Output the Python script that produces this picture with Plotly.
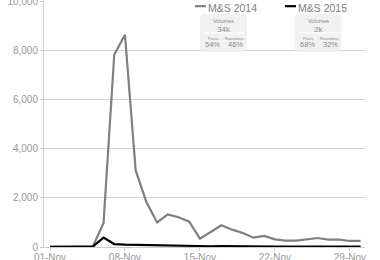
import plotly.graph_objects as go
import pandas as pd

dates = pd.date_range("2014-11-01", "2014-11-30", freq="D")
ms2014 = [10, 20, 50, 30, 20, 975, 7817, 8629, 3111, 1826, 1000, 1327, 1210, 1030, 340,
          600, 880, 705, 570, 380, 450, 310, 260, 260, 310, 365, 300, 300, 245, 245]
ms2015 = [10, 15, 20, 15, 15, 380, 120, 100, 90, 80, 60, 50, 40, 35, 20,
          30, 40, 30, 20, 20, 15, 15, 15, 15, 15, 15, 15, 15, 15, 15]
series_names = ["M&S 2014", "M&S 2015"]
series_colors = ["#7f7f7f", "#000000"]
y_ticks = [0, 2000, 4000, 6000, 8000, 10000]
x_ticks = ["2014-11-01", "2014-11-08", "2014-11-15", "2014-11-22", "2014-11-29"]
x_labels = ["01-Nov", "08-Nov", "15-Nov", "22-Nov", "29-Nov"]
volumes = ["34k", "2k"]
posts = ["54%", "68%"]
reactions = ["46%", "32%"]

W, H = 380, 260
L, R, T, B = 44, 365, 0.5, 247

def px(x):
    return (x - L) / (R - L)

def py(y):
    return (B - y) / (B - T)

fig = go.Figure()
for name, vals, col in zip(series_names, [ms2014, ms2015], series_colors):
    fig.add_trace(go.Scatter(x=dates, y=vals, mode="lines", name=name,
                             line=dict(color=col, width=2.2), showlegend=False))

font = "Liberation Sans, Arial, sans-serif"
shapes = []
annotations = []

def rounded_rect(x0, y0, x1, y1, r):
    def P(x, y):
        return f"{px(x):.5f},{py(y):.5f}"
    return (f"M {P(x0 + r, y0)} L {P(x1 - r, y0)} Q {P(x1, y0)} {P(x1, y0 + r)} "
            f"L {P(x1, y1 - r)} Q {P(x1, y1)} {P(x1 - r, y1)} "
            f"L {P(x0 + r, y1)} Q {P(x0, y1)} {P(x0, y1 - r)} "
            f"L {P(x0, y0 + r)} Q {P(x0, y0)} {P(x0 + r, y0)} Z")

legend_x = [195, 285]
box_x = [200, 294.5]
for i in range(2):
    lx = legend_x[i]
    shapes.append(dict(type="line", xref="paper", yref="paper",
                       x0=px(lx), x1=px(lx + 11), y0=py(5.7), y1=py(5.7),
                       line=dict(color=series_colors[i], width=2.2)))
    annotations.append(dict(x=px(lx + 11), y=py(7.5), xref="paper", yref="paper",
                            text=series_names[i], showarrow=False, xanchor="left",
                            yanchor="middle", font=dict(size=10.5, color="#808080", family=font)))
    bx = box_x[i]
    shapes.append(dict(type="path", xref="paper", yref="paper",
                       path=rounded_rect(bx, 13.3, bx + 47, 51.7, 5),
                       fillcolor="rgba(238,238,238,0.85)", line=dict(width=0), layer="above"))
    shapes.append(dict(type="line", xref="paper", yref="paper",
                       x0=px(bx + 3), x1=px(bx + 44), y0=py(32.5), y1=py(32.5),
                       line=dict(color="white", width=1)))
    cx = bx + 23.5
    for text, x, y, s in [("Volumes", cx, 20.7, 5.5), (volumes[i], cx, 29.0, 8),
                          ("Posts", bx + 13, 38.3, 4.2), ("Reactions", bx + 35, 38.3, 4.2),
                          (posts[i], bx + 13, 44.5, 7.5), (reactions[i], bx + 35.5, 44.5, 7.5)]:
        annotations.append(dict(x=px(x), y=py(y), xref="paper", yref="paper", text=text,
                                showarrow=False, xanchor="center", yanchor="middle",
                                font=dict(size=s, color="#8a8a8a", family=font)))

fig.update_layout(
    width=W, height=H,
    margin=dict(l=L, r=W - R, t=T, b=H - B, autoexpand=False),
    paper_bgcolor="white", plot_bgcolor="white",
    shapes=shapes, annotations=annotations,
    font=dict(family=font, size=10, color="#999999"),
    xaxis=dict(range=["2014-10-31 10:34", "2014-11-30 09:50"],
               tickvals=x_ticks, ticktext=x_labels, automargin=False,
               ticklabeloverflow="allow",
               showgrid=False, showline=True, linecolor="#cccccc", linewidth=1,
               ticks="outside", ticklen=3, tickcolor="#cccccc", zeroline=False,
               ticklabelstandoff=-2,
               tickfont=dict(size=10, color="#999999")),
    yaxis=dict(range=[0, 10000], tickvals=y_ticks, tickformat=",", automargin=False,
               ticklabeloverflow="allow",
               showgrid=True, gridcolor="#d4d4d4", gridwidth=1,
               showline=True, linecolor="#cccccc", linewidth=1,
               ticks="outside", ticklen=3, tickcolor="#cccccc", zeroline=False,
               tickfont=dict(size=10, color="#999999")),
)

fig.write_html("out.html")
